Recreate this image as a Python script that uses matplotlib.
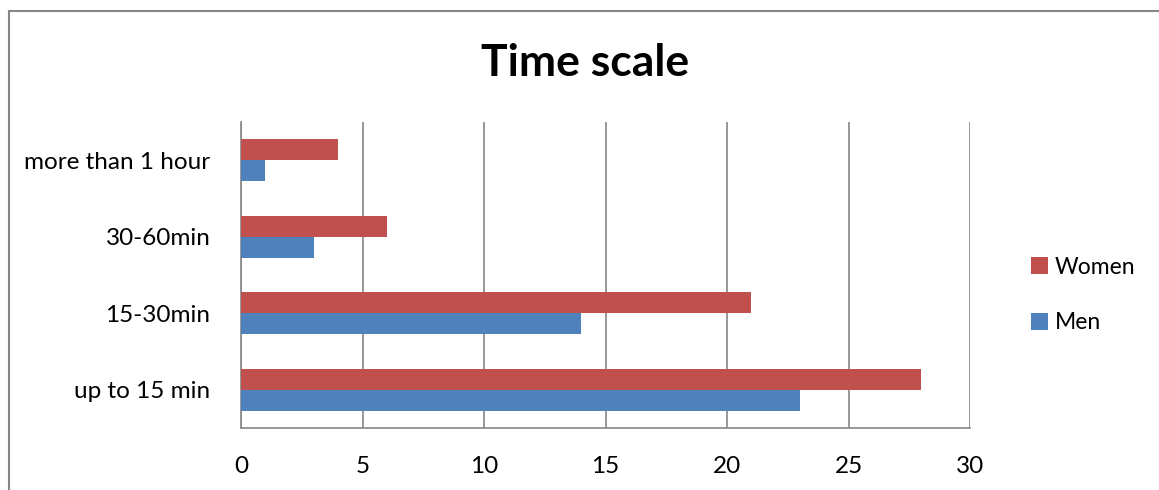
import matplotlib
matplotlib.use('Agg')
import matplotlib.pyplot as plt
import numpy as np
from matplotlib.patches import Rectangle

plt.rcParams['font.family'] = ['Lato', 'DejaVu Sans']

# data
categories = ['up to 15 min', '15-30min', '30-60min', 'more than 1 hour']
women = [28, 21, 6, 4]
men = [23, 14, 3, 1]
xticks = [0, 5, 10, 15, 20, 25, 30]

fig = plt.figure(figsize=(11.59, 4.9), dpi=100)
ax = fig.add_axes([241/1159, 1-428/490, (970-241)/1159, (428-122)/490])

y = np.arange(len(categories))
h = 0.275
ax.barh(y + h/2, women, height=h, color='#C0504D', label='Women', zorder=3)
ax.barh(y - h/2, men, height=h, color='#4F81BD', label='Men', zorder=3)

ax.set_xlim(0, 30)
ax.set_ylim(-0.5, len(categories) - 0.5)
ax.set_xticks(xticks)
ax.set_yticks(y)
ax.set_yticklabels(categories)
ax.grid(axis='x', color='#868686', linewidth=1.2, zorder=0)
ax.tick_params(length=0, labelsize=17.5, pad=22)
ax.tick_params(axis='x', pad=20)
for s in ['top', 'right']:
    ax.spines[s].set_visible(False)
for s in ['left', 'bottom']:
    ax.spines[s].set_color('#868686')
    ax.spines[s].set_linewidth(1.2)

fig.text(585/1159, 1-63/490, 'Time scale', ha='center', va='center',
         fontsize=32, fontweight='bold')

handles, labels = ax.get_legend_handles_labels()
fig.legend(handles, labels, loc='center left', bbox_to_anchor=(1010/1159, 1-295/490),
           frameon=False, fontsize=16.5, handlelength=0.75, handleheight=0.75,
           handletextpad=0.3, labelspacing=1.5)

# outer chart border
fig.patches.append(Rectangle((8.5/1159, -0.1), 1.2, 1.1 - 11.5/490,
                             transform=fig.transFigure, fill=False,
                             edgecolor='#868686', linewidth=1.5))

fig.savefig('out.png', dpi=100)
